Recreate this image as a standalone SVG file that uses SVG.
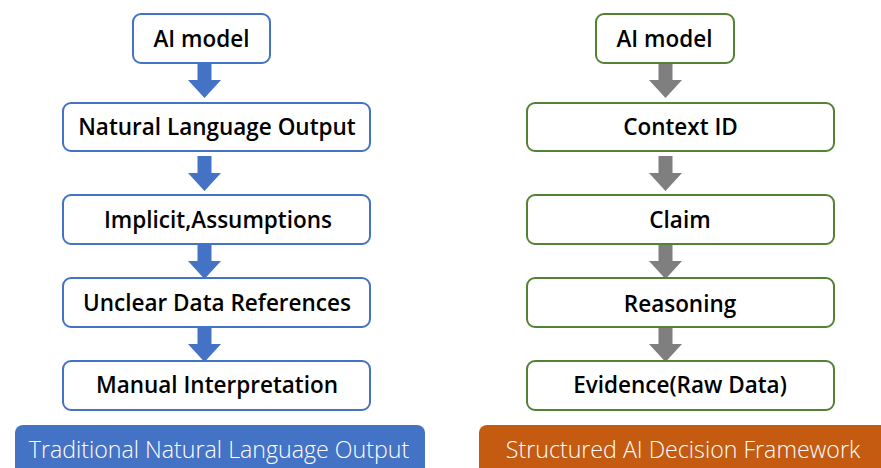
<svg xmlns="http://www.w3.org/2000/svg" width="881" height="468" viewBox="0 0 881 468">
<style>
.bl{fill:#fff;stroke:#4472C4;stroke-width:2}
.gr{fill:#fff;stroke:#548235;stroke-width:2}
.t{font-family:"Open Sans","Noto Sans",sans-serif;font-weight:600;font-size:22.5px;fill:#000;text-anchor:middle}
.bt{font-family:"Open Sans","Noto Sans",sans-serif;font-weight:300;font-size:23.2px;fill:#fff;text-anchor:middle}
.ab{fill:#4472C4}
.ag{fill:#7F7F7F}
</style>
<defs>
<path id="arr" d="M-7,0 H7 V17 H16.5 L0,35 L-16.5,17 H-7 Z"/>
</defs>
<g id="connectors">
<use href="#arr" class="ab" x="204.5" y="63"/>
<use href="#arr" class="ab" x="204.5" y="156"/>
<use href="#arr" class="ab" x="204.5" y="244"/>
<use href="#arr" class="ab" x="204.5" y="327"/>
<use href="#arr" class="ag" x="665.5" y="63"/>
<use href="#arr" class="ag" x="665.5" y="156"/>
<use href="#arr" class="ag" x="665.5" y="244"/>
<use href="#arr" class="ag" x="665.5" y="327"/>
</g>
<g id="l1"><rect class="bl" x="133" y="14" width="137" height="49" rx="8"/><text class="t" x="201.5" y="47">AI model</text></g>
<g id="l2"><rect class="bl" x="63" y="103" width="307" height="48" rx="8"/><text class="t" x="217" y="135">Natural Language Output</text></g>
<g id="l3"><rect class="bl" x="63" y="195" width="307" height="49" rx="8"/><text class="t" x="218" y="228">Implicit,Assumptions</text></g>
<g id="l4"><rect class="bl" x="63" y="278" width="307" height="49" rx="8"/><text class="t" x="217" y="311">Unclear Data References</text></g>
<g id="l5"><rect class="bl" x="63" y="361" width="307" height="49" rx="8"/><text class="t" x="217" y="393">Manual Interpretation</text></g>
<g id="r1"><rect class="gr" x="596" y="14" width="138" height="49" rx="8"/><text class="t" x="664.5" y="47">AI model</text></g>
<g id="r2"><rect class="gr" x="527" y="103" width="307" height="48" rx="8"/><text class="t" x="680.5" y="135">Context ID</text></g>
<g id="r3"><rect class="gr" x="527" y="195" width="307" height="49" rx="8"/><text class="t" x="680" y="228">Claim</text></g>
<g id="r4"><rect class="gr" x="527" y="278" width="307" height="49" rx="8"/><text class="t" x="680" y="312">Reasoning</text></g>
<g id="r5"><rect class="gr" x="527" y="361" width="307" height="49" rx="8"/><text class="t" x="680" y="393">Evidence(Raw Data)</text></g>
<g id="banner-left"><rect x="15" y="425" width="410" height="60" rx="8" fill="#4472C4"/><text class="bt" x="219" y="458">Traditional Natural Language Output</text></g>
<g id="banner-right"><rect x="479" y="425" width="420" height="60" rx="8" fill="#C55A11"/><text class="bt" x="683" y="458">Structured AI Decision Framework</text></g>
</svg>
